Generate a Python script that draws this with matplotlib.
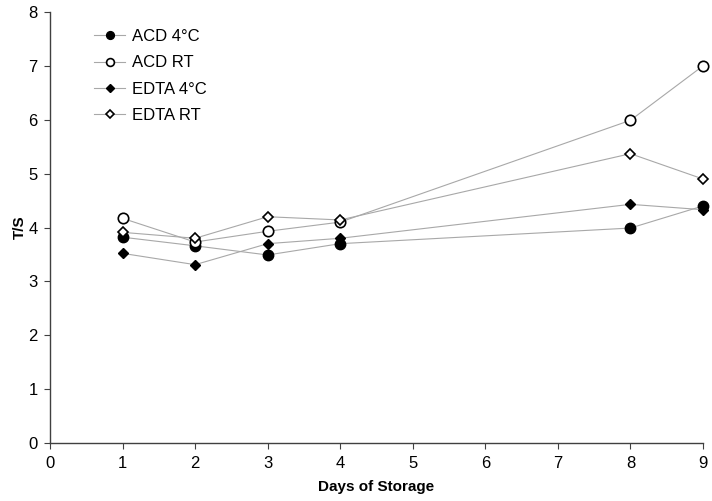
import matplotlib
matplotlib.use("Agg")
import matplotlib.pyplot as plt

plt.rcParams['font.family'] = ['Liberation Sans', 'DejaVu Sans']

days = [1, 2, 3, 4, 8, 9]
acd_4c = [3.82, 3.66, 3.49, 3.70, 3.99, 4.40]
acd_rt = [4.17, 3.73, 3.93, 4.10, 5.99, 7.00]
edta_4c = [3.52, 3.31, 3.70, 3.80, 4.43, 4.33]
edta_rt = [3.91, 3.80, 4.20, 4.14, 5.37, 4.90]

fig = plt.figure(figsize=(7.12, 5.01), dpi=100)
ax = fig.add_axes([50 / 712, 58 / 501, 653 / 712, 431 / 501])

# markers at day 9 sit on the axes edge, so don't clip them
line_kw = dict(color='#a8a8a8', linewidth=0.8, clip_on=False)
ax.plot(days, acd_4c, marker='o', markersize=7.5, markerfacecolor='black',
        markeredgecolor='black', label='ACD 4°C', **line_kw)
ax.plot(days, acd_rt, marker='o', markersize=7.5, markerfacecolor='white',
        markeredgecolor='black', markeredgewidth=1.2, label='ACD RT', **line_kw)
ax.plot(days, edta_4c, marker='D', markersize=5.5, markerfacecolor='black',
        markeredgecolor='black', label='EDTA 4°C', **line_kw)
ax.plot(days, edta_rt, marker='D', markersize=5.5, markerfacecolor='white',
        markeredgecolor='black', markeredgewidth=1.2, label='EDTA RT', **line_kw)

ax.set_xlim(0, 9)
ax.set_ylim(0, 8)
ax.set_xticks(range(0, 10))
ax.set_yticks(range(0, 9))
ax.spines['top'].set_visible(False)
ax.spines['right'].set_visible(False)
for side in ['left', 'bottom']:
    ax.spines[side].set_color('#404040')
    ax.spines[side].set_linewidth(1.0)
ax.tick_params(direction='out', labelsize=12, length=4, color='#404040',
               pad=5)
ax.set_xlabel('Days of Storage', fontsize=11, fontweight='bold', labelpad=7)
ax.set_ylabel('T/S', fontsize=11, fontweight='bold', labelpad=1)

ax.legend(loc='upper left', bbox_to_anchor=(0.044, 0.995), frameon=False,
          fontsize=12, markerscale=0.75, handlelength=1.9, handletextpad=0.4,
          labelspacing=0.68)

fig.savefig('out.png', dpi=100)
